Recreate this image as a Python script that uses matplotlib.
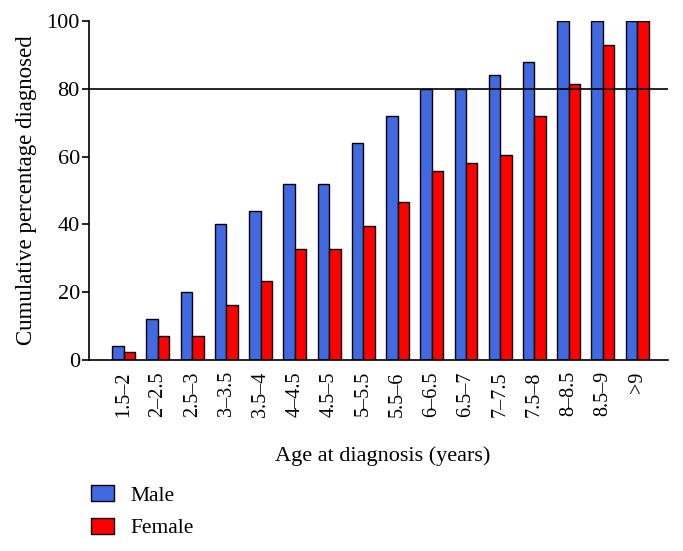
import numpy as np
import matplotlib
matplotlib.use("Agg")
import matplotlib.pyplot as plt
from matplotlib.patches import Patch

plt.rcParams['font.family'] = ['Liberation Serif', 'DejaVu Serif']

age_groups = ['1.5–2', '2–2.5', '2.5–3', '3–3.5', '3.5–4', '4–4.5', '4.5–5', '5–5.5',
              '5.5–6', '6–6.5', '6.5–7', '7–7.5', '7.5–8', '8–8.5', '8.5–9', '>9']
male = [4, 12, 20, 40, 44, 52, 52, 64, 72, 80, 80, 84, 88, 100, 100, 100]
female = [2.3, 7.0, 7.0, 16.3, 23.3, 32.6, 32.6, 39.5, 46.5, 55.8, 58.1, 60.5, 72.1, 81.4, 93.0, 100]

fig = plt.figure(figsize=(6.83, 5.51), dpi=100)
ax = fig.add_axes([0.130, 0.3466, 0.848, 0.6154])

x = np.arange(len(age_groups))
w = 0.335
ax.bar(x - w / 2, male, w, color='#4169E1', edgecolor='black', linewidth=1.0, zorder=2)
ax.bar(x + w / 2, female, w, color='#FF0000', edgecolor='black', linewidth=1.0, zorder=2)

ax.axhline(80, color='black', linewidth=1.2, zorder=3)

ax.set_xlim(-1.02, 15.9)
ax.set_ylim(0, 100)
ax.set_yticks([0, 20, 40, 60, 80, 100])
ax.set_xticks(x)
ax.set_xticklabels(age_groups, rotation=90, fontsize=14.5)
ax.tick_params(axis='x', length=0, pad=8)
ax.tick_params(axis='y', length=5, width=1.2, labelsize=16, pad=1.5)

for s in ['top', 'right']:
    ax.spines[s].set_visible(False)
ax.spines['left'].set_linewidth(1.2)
ax.spines['bottom'].set_linewidth(1.2)

ax.set_ylabel('Cumulative percentage diagnosed', fontsize=16.5, labelpad=7)
ax.set_xlabel('Age at diagnosis (years)', fontsize=16, labelpad=6)
ax.xaxis.set_label_coords(0.507, -0.255)

handles = [Patch(facecolor='#4169E1', edgecolor='black', label='Male'),
           Patch(facecolor='#FF0000', edgecolor='black', label='Female')]
fig.legend(handles=handles, loc='upper left', bbox_to_anchor=(0.12, 0.135),
           frameon=False, fontsize=15.5, handlelength=1.1, handleheight=0.75,
           labelspacing=0.58, handletextpad=0.75, borderaxespad=0)

fig.savefig('out.png', dpi=100)
